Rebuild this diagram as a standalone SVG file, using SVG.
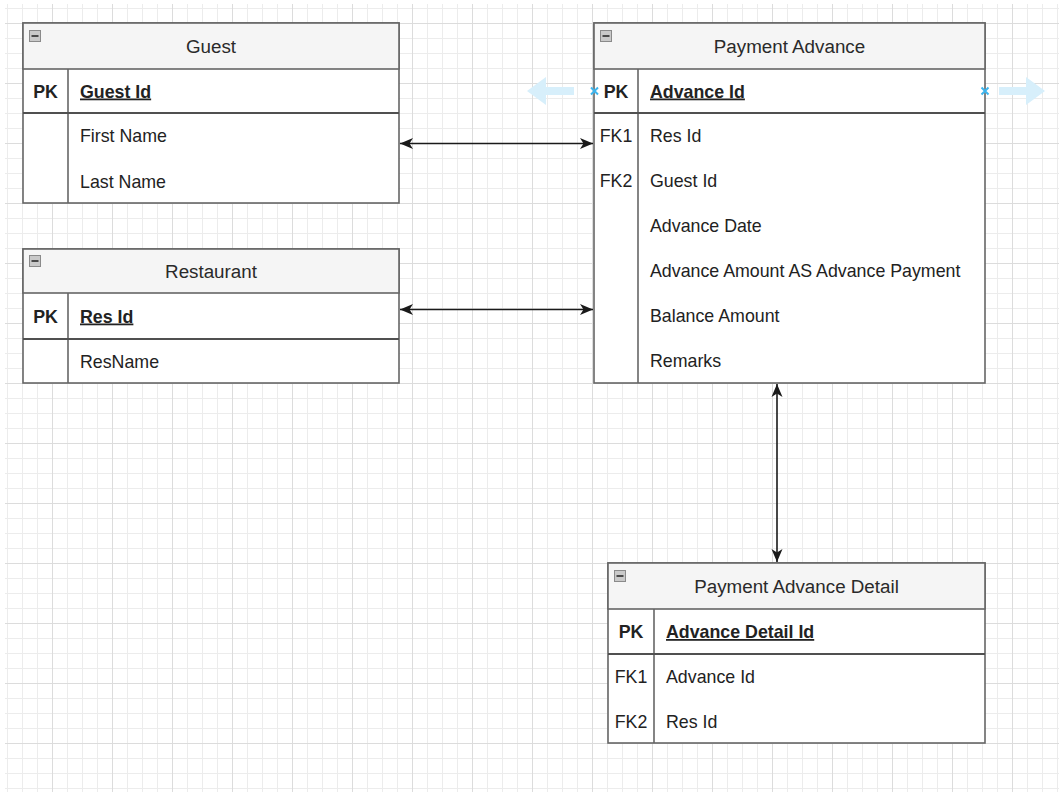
<svg xmlns="http://www.w3.org/2000/svg" width="1059" height="792" viewBox="0 0 1059 792">
<style>
  .box{fill:#ffffff;stroke:#666;stroke-width:1.6}
  .hdr{fill:#f5f5f5;stroke:#666;stroke-width:1.6}
  .ln{stroke:#666;stroke-width:1.6;fill:none}
  .pkln{stroke:#505050;stroke-width:2;fill:none}
  text{font-family:"Liberation Sans",Arial,sans-serif;fill:#222}
  .title{font-size:18.8px;text-anchor:middle;fill:#2a2a2a}
  .key{font-size:17.8px;text-anchor:middle}
  .keyb{font-size:17.8px;text-anchor:middle;font-weight:bold}
  .fld{font-size:17.8px}
  .pk{font-size:17.8px;font-weight:bold;text-decoration:underline}
  .conn{stroke:#1a1a1a;stroke-width:1.6;fill:none}
  .hint{fill:#d7effb}
  .xm{stroke:#3db5ee;stroke-width:2;fill:none}
</style>
<defs>
  <pattern id="grid" patternUnits="userSpaceOnUse" x="52" y="23" width="60" height="60">
    <rect x="15" y="0" width="1" height="60" fill="#ececec"/>
    <rect x="30" y="0" width="1" height="60" fill="#ececec"/>
    <rect x="45" y="0" width="1" height="60" fill="#ececec"/>
    <rect x="0" y="15" width="60" height="1" fill="#ececec"/>
    <rect x="0" y="30" width="60" height="1" fill="#ececec"/>
    <rect x="0" y="45" width="60" height="1" fill="#ececec"/>
    <rect x="0" y="0" width="1" height="60" fill="#dcdcdc"/>
    <rect x="0" y="0" width="60" height="1" fill="#dcdcdc"/>
  </pattern>
  <marker id="arr" markerWidth="14" markerHeight="14" viewBox="0 0 14 14" refX="13" refY="7" orient="auto-start-reverse" markerUnits="userSpaceOnUse">
    <path d="M0,1.5 L13,7 L0,12.5 L3.5,7 Z" fill="#1a1a1a"/>
  </marker>
  <g id="minus">
    <rect x="0.5" y="0.5" width="11" height="11" fill="#c9c9c9" stroke="#8a8a8a" stroke-width="1"/>
    <rect x="2.5" y="5" width="7" height="2" fill="#4a4a4a"/>
  </g>
</defs>
<rect x="0" y="0" width="1059" height="792" fill="#ffffff"/>
<rect x="5" y="4" width="1054" height="788" fill="url(#grid)"/>

<g id="hints">
  <path class="hint" d="M527,91 L546,77 L546,87 L574,87 L574,95 L546,95 L546,105 Z"/>
  <path class="hint" d="M1045,91 L1026,77 L1026,87 L999,87 L999,95 L1026,95 L1026,105 Z"/>
</g>

<g id="connectors">
  <line class="conn" x1="400" y1="143.5" x2="593" y2="143.5" marker-start="url(#arr)" marker-end="url(#arr)"/>
  <line class="conn" x1="400" y1="309.5" x2="593" y2="309.5" marker-start="url(#arr)" marker-end="url(#arr)"/>
  <line class="conn" x1="777" y1="384" x2="777" y2="562" marker-start="url(#arr)" marker-end="url(#arr)"/>
</g>

<g id="guest">
  <rect class="box" x="23" y="23" width="376" height="180"/>
  <rect class="hdr" x="23" y="23" width="376" height="46"/>
  <use href="#minus" x="29" y="30"/>
  <text class="title" x="211" y="52.5">Guest</text>
  <line class="ln" x1="68" y1="69" x2="68" y2="203"/>
  <line class="pkln" x1="23" y1="113" x2="399" y2="113"/>
  <text class="keyb" x="45.5" y="97.5">PK</text>
  <text class="pk" x="80" y="97.5">Guest Id</text>
  <text class="fld" x="80" y="142">First Name</text>
  <text class="fld" x="80" y="187.5">Last Name</text>
</g>

<g id="restaurant">
  <rect class="box" x="23" y="249" width="376" height="134"/>
  <rect class="hdr" x="23" y="249" width="376" height="44"/>
  <use href="#minus" x="29" y="255"/>
  <text class="title" x="211" y="277.5">Restaurant</text>
  <line class="ln" x1="68" y1="293" x2="68" y2="383"/>
  <line class="pkln" x1="23" y1="339" x2="399" y2="339"/>
  <text class="keyb" x="45.5" y="322.5">PK</text>
  <text class="pk" x="80" y="322.5">Res Id</text>
  <text class="fld" x="80" y="367.5">ResName</text>
</g>

<g id="payment-advance">
  <rect class="box" x="594" y="23" width="391" height="360"/>
  <rect class="hdr" x="594" y="23" width="391" height="46"/>
  <use href="#minus" x="600" y="30"/>
  <text class="title" x="789.5" y="52.5">Payment Advance</text>
  <line class="ln" x1="638" y1="69" x2="638" y2="383"/>
  <line class="pkln" x1="594" y1="113" x2="985" y2="113"/>
  <text class="keyb" x="616" y="97.5">PK</text>
  <text class="pk" x="650" y="97.5">Advance Id</text>
  <text class="key" x="616" y="142">FK1</text>
  <text class="fld" x="650" y="142">Res Id</text>
  <text class="key" x="616" y="187">FK2</text>
  <text class="fld" x="650" y="187">Guest Id</text>
  <text class="fld" x="650" y="232">Advance Date</text>
  <text class="fld" x="650" y="277">Advance Amount AS Advance Payment</text>
  <text class="fld" x="650" y="322">Balance Amount</text>
  <text class="fld" x="650" y="367">Remarks</text>
</g>

<g id="handles">
  <path class="xm" d="M591,87.5 L598,94.5 M598,87.5 L591,94.5"/>
  <path class="xm" d="M981.5,87.5 L988.5,94.5 M988.5,87.5 L981.5,94.5"/>
</g>

<g id="payment-advance-detail">
  <rect class="box" x="608" y="563" width="377" height="180"/>
  <rect class="hdr" x="608" y="563" width="377" height="46"/>
  <use href="#minus" x="614" y="570"/>
  <text class="title" x="796.5" y="592.5">Payment Advance Detail</text>
  <line class="ln" x1="654" y1="609" x2="654" y2="743"/>
  <line class="pkln" x1="608" y1="654" x2="985" y2="654"/>
  <text class="keyb" x="631" y="638">PK</text>
  <text class="pk" x="666" y="638">Advance Detail Id</text>
  <text class="key" x="631" y="683">FK1</text>
  <text class="fld" x="666" y="683">Advance Id</text>
  <text class="key" x="631" y="727.5">FK2</text>
  <text class="fld" x="666" y="727.5">Res Id</text>
</g>
</svg>
